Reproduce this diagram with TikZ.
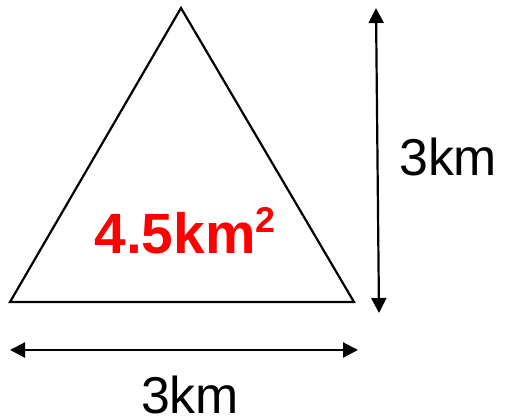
\documentclass[tikz,border=0pt]{standalone}
\usepackage{fontspec}
\setmainfont{Liberation Sans}
\usetikzlibrary{arrows.meta}
\begin{document}
\begin{tikzpicture}[x=1bp,y=-1bp,
  triline/.style={draw=black,line width=2.2bp,line join=miter},
  dimline/.style={line width=2.2bp,{Triangle[length=15bp,width=15bp]}-{Triangle[length=15bp,width=15bp]}},
  lbl/.style={inner sep=0pt,anchor=base,font=\fontsize{52}{56}\selectfont},
  area/.style={inner sep=0pt,anchor=base,text=red,font=\fontsize{57}{60}\selectfont\bfseries}]
\useasboundingbox (0,0) rectangle (505,419);
\coordinate (A) at (181,8);
\coordinate (B) at (10,302);
\coordinate (C) at (354,302);
\draw[triline] (A) -- (B) -- (C) -- cycle;
\coordinate (vt) at (376,8);
\coordinate (vb) at (379,313);
\draw[dimline] (vt) -- (vb);
\coordinate (hl) at (10,350);
\coordinate (hr) at (358,350);
\draw[dimline] (hl) -- (hr);
\node[lbl,anchor=base west] (rl) at (399,175) {3km};
\node[lbl] (bl) at (190,413) {3km};
\node[area] (ar) at (185,253) {4.5km\raisebox{21bp}{\fontsize{36}{36}\selectfont 2}};
\end{tikzpicture}
\end{document}
